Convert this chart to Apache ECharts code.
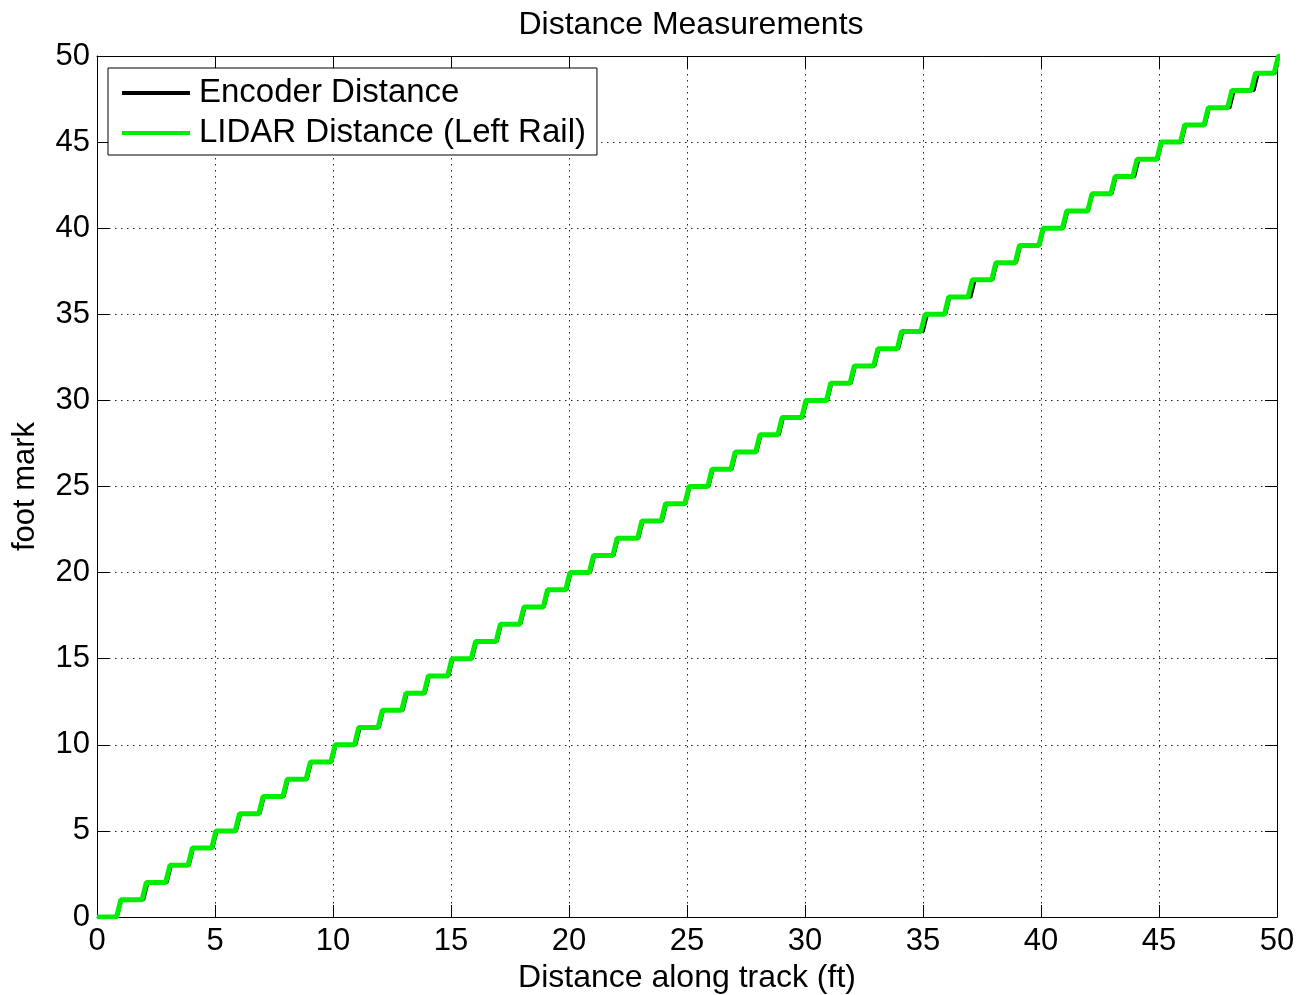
<!DOCTYPE html>
<html>
<head>
<meta charset="utf-8">
<script src="https://cdn.jsdelivr.net/npm/echarts@6/dist/echarts.min.js"></script>
<style>
html,body{margin:0;padding:0;background:#fff;}
#chart{width:1300px;height:995px;}
</style>
</head>
<body>
<div id="chart"></div>
<script>
// Step number (foot mark) reached at each rise
const footMarks = [1,2,3,4,5,6,7,8,9,10,11,12,13,14,15,16,17,18,19,20,21,22,23,24,25,26,27,28,29,30,31,32,33,34,35,36,37,38,39,40,41,42,43,44,45,46,47,48,49,50];
// Distance along track (ft) where the LIDAR staircase rises to each foot mark
const lidarRise = [0.92,2.0,3.0,3.95,4.95,5.95,6.95,7.97,8.95,10.0,11.0,12.0,13.0,13.95,14.95,15.95,17.0,18.0,19.0,19.95,20.95,21.95,23.0,24.0,25.0,25.97,26.95,28.0,28.94,29.95,31.0,32.0,33.0,34.0,35.0,36.0,37.0,38.0,39.0,40.0,41.0,42.07,43.05,43.98,45.0,46.0,47.0,48.0,49.0,49.97];
// Distance along track (ft) where the encoder staircase rises to each foot mark
const encoderRise = [0.95,2.07,3.06,4.0,5.0,6.0,7.0,8.02,9.0,10.04,11.06,12.05,13.06,14.0,15.0,16.0,17.05,18.05,19.04,20.0,21.0,22.0,23.05,24.05,25.04,26.02,27.0,28.05,29.0,30.0,31.05,32.05,33.05,34.06,35.1,36.05,37.12,38.05,39.05,40.04,41.05,42.1,43.1,44.06,45.04,46.05,47.05,48.1,49.12,50.02];
const xTicks = [0,5,10,15,20,25,30,35,40,45,50];

function stairs(rises, marks) {
  const pts = [[0, 0]];
  for (let i = 0; i < rises.length; i++) {
    pts.push([rises[i] - 0.09, marks[i] - 1]);
    pts.push([rises[i] + 0.09, marks[i]]);
  }
  pts.push([51, marks[marks.length - 1]]);
  return pts;
}

const chart = echarts.init(document.getElementById('chart'), null, {renderer: 'canvas'});
const FONT = 'Liberation Sans, Arial, sans-serif';
const grid = {left: 97, right: 23, top: 56, bottom: 78, containLabel: false, outerBoundsMode: 'none'};
const splitStyle = {show: true, lineStyle: {color: '#222', width: 1, type: [1.5, 4.5]}};

chart.setOption({
  animation: false,
  backgroundColor: '#fff',
  title: {
    text: 'Distance Measurements',
    left: 686, top: 4, textAlign: 'center',
    textStyle: {fontFamily: FONT, fontSize: 32, fontWeight: 'normal', color: '#000'}
  },
  grid: grid,
  legend: {
    orient: 'vertical',
    left: 108, top: 68,
    padding: [8, 11, 5, 14],
    itemGap: 6,
    itemWidth: 68, itemHeight: 4,
    backgroundColor: '#fff',
    borderColor: '#000', borderWidth: 1, borderRadius: 0,
    textStyle: {fontFamily: FONT, fontSize: 33, color: '#000', lineHeight: 34, padding: [0, 0, 0, 4]},
    data: [
      {name: 'Encoder Distance', icon: 'rect', itemStyle: {color: '#000'}},
      {name: 'LIDAR Distance (Left Rail)', icon: 'rect', itemStyle: {color: '#00ee00'}}
    ]
  },
  xAxis: [{
    type: 'value', min: 0, max: 50, interval: 5,
    name: 'Distance along track (ft)', nameLocation: 'middle', nameGap: 43,
    nameTextStyle: {fontFamily: FONT, fontSize: 32, color: '#000'},
    axisLine: {show: true, onZero: false, lineStyle: {color: '#000', width: 1}},
    axisTick: {show: true, inside: true, length: 12, lineStyle: {color: '#000'}},
    axisLabel: {fontFamily: FONT, fontSize: 31, color: '#000', margin: 9,
      formatter: v => xTicks.indexOf(v) >= 0 ? String(v) : ''},
    splitLine: splitStyle
  }, {
    type: 'value', min: 0, max: 50, interval: 5, position: 'top',
    axisLine: {show: true, onZero: false, lineStyle: {color: '#000', width: 1}},
    axisTick: {show: true, inside: true, length: 12, lineStyle: {color: '#000'}},
    axisLabel: {show: false}, splitLine: {show: false}
  }],
  yAxis: [{
    type: 'value', min: 0, max: 50, interval: 5,
    name: 'foot mark', nameLocation: 'middle', nameGap: 56,
    nameTextStyle: {fontFamily: FONT, fontSize: 31, color: '#000'},
    axisLine: {show: true, onZero: false, lineStyle: {color: '#000', width: 1}},
    axisTick: {show: true, inside: true, length: 12, lineStyle: {color: '#000'}},
    axisLabel: {fontFamily: FONT, fontSize: 31, color: '#000', margin: 7},
    splitLine: splitStyle
  }, {
    type: 'value', min: 0, max: 50, interval: 5, position: 'right',
    axisLine: {show: true, onZero: false, lineStyle: {color: '#000', width: 1}},
    axisTick: {show: true, inside: true, length: 12, lineStyle: {color: '#000'}},
    axisLabel: {show: false}, splitLine: {show: false}
  }],
  series: [{
    name: 'Encoder Distance', type: 'line', xAxisIndex: 0, yAxisIndex: 0,
    data: stairs(encoderRise, footMarks),
    showSymbol: false, symbol: 'none', clip: true,
    lineStyle: {color: '#000', width: 3},
    itemStyle: {color: '#000'}, z: 2
  }, {
    name: 'LIDAR Distance (Left Rail)', type: 'line', xAxisIndex: 0, yAxisIndex: 0,
    data: stairs(lidarRise, footMarks),
    showSymbol: false, symbol: 'none', clip: true,
    lineStyle: {color: '#00ee00', width: 5},
    itemStyle: {color: '#00ee00'}, z: 3
  }]
});
</script>
</body>
</html>
